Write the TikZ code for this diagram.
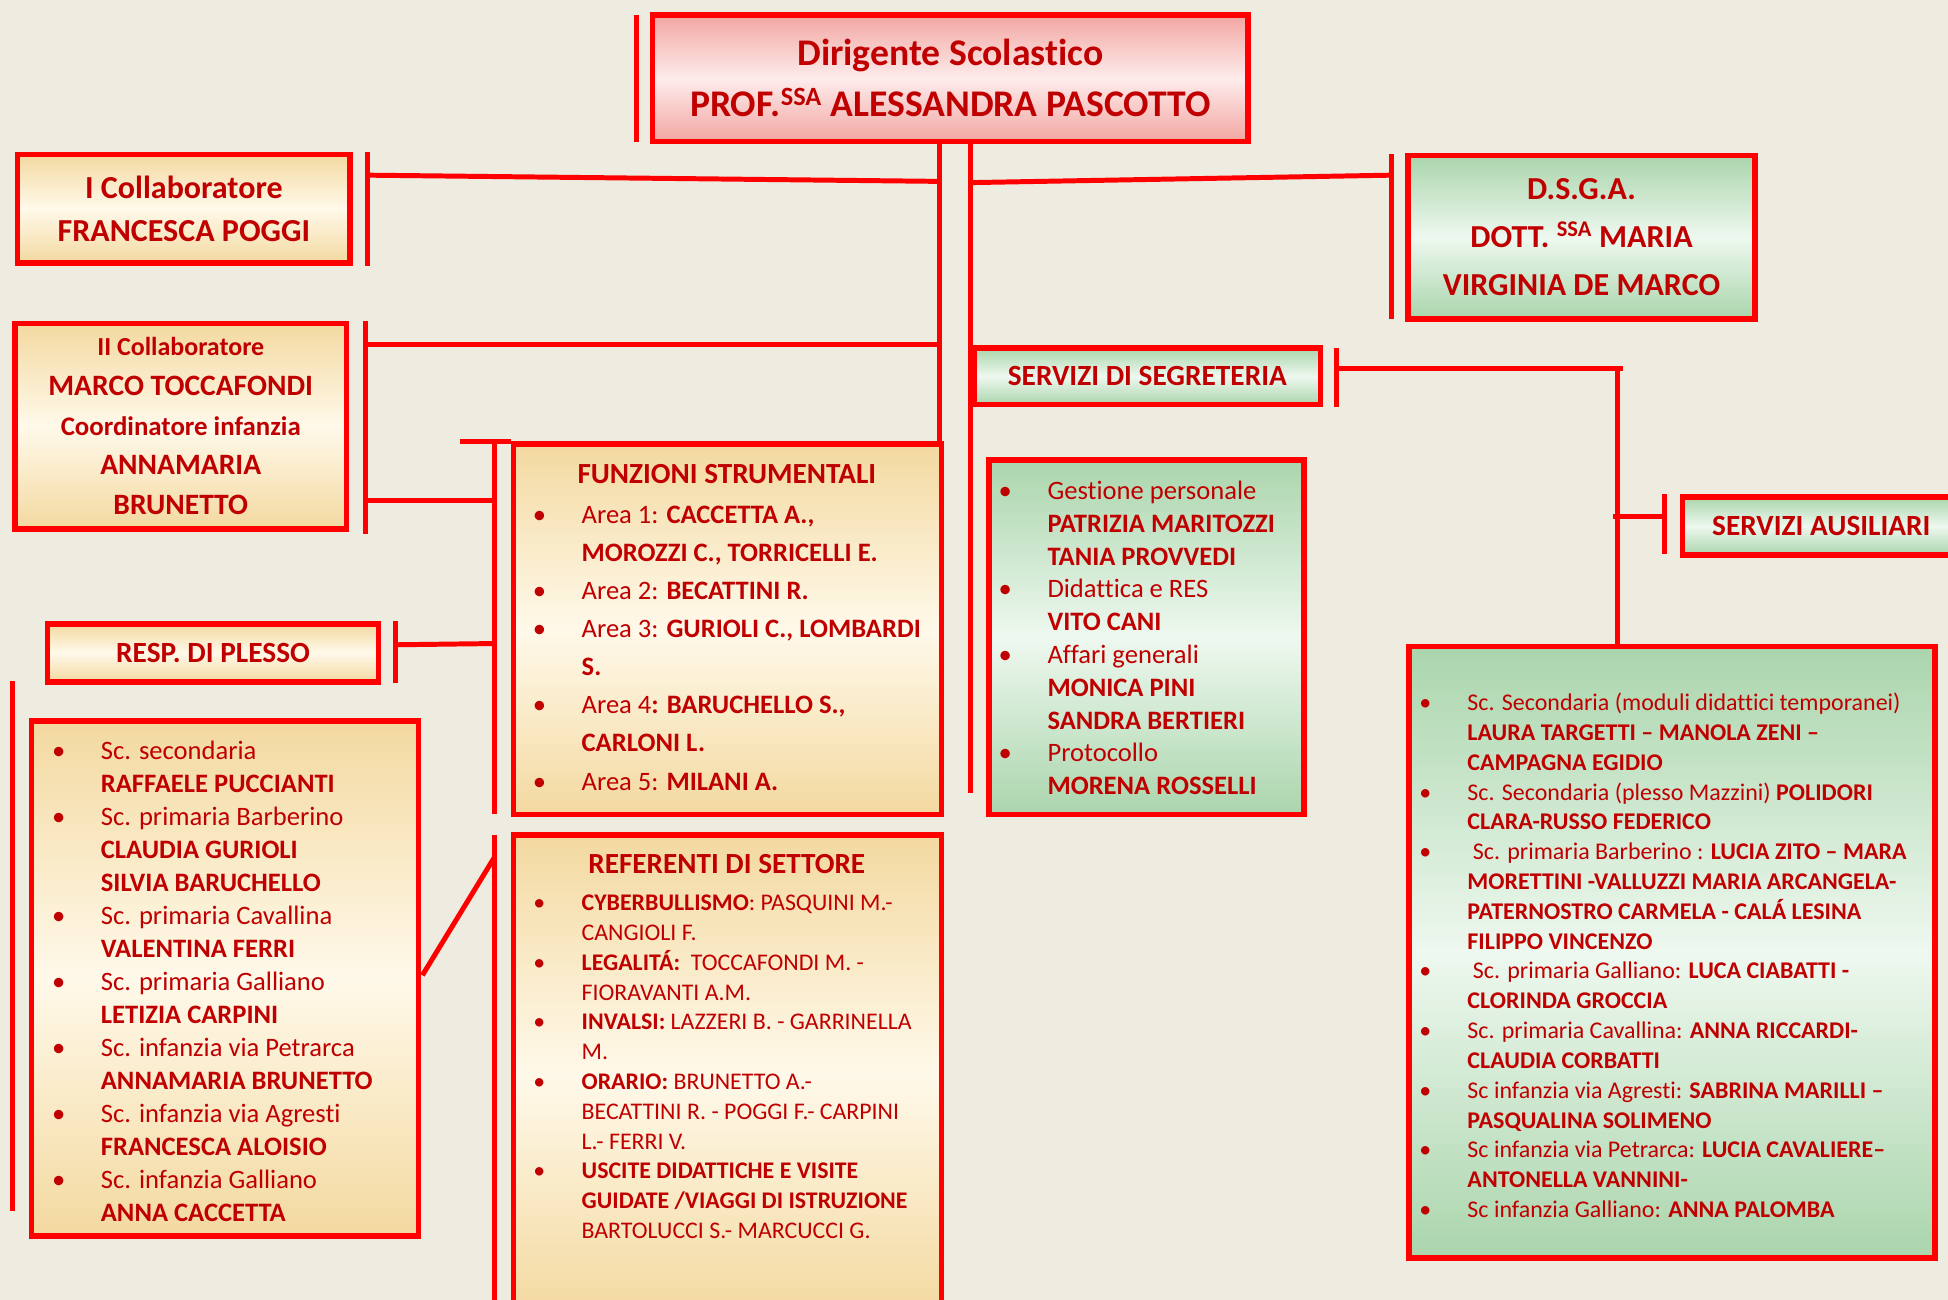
\documentclass[tikz,border=0pt]{standalone}
\usepackage{fontspec}
\setmainfont{Carlito}[Ligatures={TeX,NoCommon}]
\definecolor{bgc}{RGB}{238,235,224}
\definecolor{lred}{RGB}{255,0,0}
\definecolor{dred}{RGB}{192,0,0}
\definecolor{wheat}{RGB}{243,217,160}
\definecolor{cream}{RGB}{255,249,234}
\definecolor{pinkA}{RGB}{242,166,161}
\definecolor{pinkB}{RGB}{253,236,236}
\definecolor{grnA}{RGB}{170,213,172}
\definecolor{grnB}{RGB}{238,248,239}
\newcommand\bl{\leavevmode\llap{\makebox[0pt]{\textbullet}\hspace{34pt}}}
\newcommand\fs[2]{\fontsize{#1}{#2}\selectfont}
\tikzset{
  box/.style={draw=lred, line width=4.5pt, shading=axis, inner sep=0pt, text=dred, align=center},
  obox/.style={box, top color=wheat, bottom color=wheat, middle color=cream},
  gbox/.style={box, top color=grnA, bottom color=grnA, middle color=grnB},
  pbox/.style={box, top color=pinkA, bottom color=pinkA, middle color=pinkB},
  conn/.style={draw=lred, line width=4pt},
  lst/.style={text=dred, inner sep=0pt, anchor=base west},
  ttl/.style={text=dred, inner sep=0pt, anchor=base, font=\bfseries\fs{23.5}{28}}
}
\begin{document}
\begin{tikzpicture}[x=1pt,y=-1pt]
\useasboundingbox (0,0) rectangle (1568,1046);
\clip (0,0) rectangle (1568,1046);
\fill[bgc] (0,0) rectangle (1568,1046);

% connector coordinates
\coordinate (dbarT) at (512,12);   \coordinate (dbarB) at (512,114);
\coordinate (vA1) at (756,116);    \coordinate (vA2) at (756,355);
\coordinate (vB1) at (781,116);    \coordinate (vB2) at (781,638);
\coordinate (c1barT) at (296,122); \coordinate (c1barB) at (296,214);
\coordinate (c1L) at (296,141);    \coordinate (c1R) at (756,146);
\coordinate (dsbarT) at (1120,124);\coordinate (dsbarB) at (1120,257);
\coordinate (dsL) at (781,147);    \coordinate (dsR) at (1120,141);
\coordinate (c2barT) at (294,258); \coordinate (c2barB) at (294,430);
\coordinate (c2a) at (294,277);    \coordinate (c2aR) at (756,277);
\coordinate (c2b) at (294,403);    \coordinate (c2bR) at (398,403);
\coordinate (fTopL) at (370,355);  \coordinate (fTopR) at (411,355);
\coordinate (fv1) at (398,355);    \coordinate (fv2) at (398,655);
\coordinate (pbarT) at (318,500);  \coordinate (pbarB) at (318,550);
\coordinate (pL) at (318,519);     \coordinate (pR) at (398,518);
\coordinate (lvT) at (10,548);     \coordinate (lvB) at (10,975);
\coordinate (rv1) at (398,672);    \coordinate (rv2) at (398,1046);
\coordinate (dg1) at (340,785);    \coordinate (dg2) at (398,690);
\coordinate (sbarT) at (1076,280); \coordinate (sbarB) at (1076,328);
\coordinate (sL) at (1076,297);    \coordinate (sR) at (1306,297);
\coordinate (sv1) at (1302,295);   \coordinate (sv2) at (1302,518);
\coordinate (aL) at (1298,416);    \coordinate (aR) at (1340,416);
\coordinate (abarT) at (1340,398); \coordinate (abarB) at (1340,446);

% connectors
\draw[conn] (dbarT) -- (dbarB);
\draw[conn] (vA1) -- (vA2);
\draw[conn] (vB1) -- (vB2);
\draw[conn] (c1barT) -- (c1barB);
\draw[conn] (c1L) -- (c1R);
\draw[conn] (dsbarT) -- (dsbarB);
\draw[conn] (dsL) -- (dsR);
\draw[conn] (c2barT) -- (c2barB);
\draw[conn] (c2a) -- (c2aR);
\draw[conn] (c2b) -- (c2bR);
\draw[conn] (fTopL) -- (fTopR);
\draw[conn] (fv1) -- (fv2);
\draw[conn] (pbarT) -- (pbarB);
\draw[conn] (pL) -- (pR);
\draw[conn] (lvT) -- (lvB);
\draw[conn] (rv1) -- (rv2);
\draw[conn] (dg1) -- (dg2);
\draw[conn] (sbarT) -- (sbarB);
\draw[conn] (sL) -- (sR);
\draw[conn] (sv1) -- (sv2);
\draw[conn] (aL) -- (aR);
\draw[conn] (abarT) -- (abarB);

% title boxes
\node[pbox, minimum width=479.5pt, minimum height=101.5pt, font=\bfseries\fs{30.3}{41}] (dir) at (765,63)
  {Dirigente Scolastico\\PROF.\textsuperscript{SSA} ALESSANDRA PASCOTTO};
\node[obox, minimum width=267.5pt, minimum height=87.5pt, font=\bfseries\fs{25.8}{35}] (c1) at (148,168)
  {I Collaboratore\\FRANCESCA POGGI};
\node[gbox, minimum width=279.5pt, minimum height=131.5pt, font=\bfseries\fs{25.8}{38.5}] (dsga) at (1273,191)
  {D.S.G.A.\\DOTT. \textsuperscript{SSA} MARIA\\VIRGINIA DE MARCO};
\node[obox, minimum width=266.5pt, minimum height=165.5pt, font=\bfseries\fs{23.8}{32}] (c2) at (145.5,343)
  {{\fs{20.9}{32}II Collaboratore}\\MARCO TOCCAFONDI\\{\fs{21.6}{32}Coordinatore infanzia}\\ANNAMARIA\\BRUNETTO};
\node[gbox, minimum width=278.5pt, minimum height=45.5pt, font=\bfseries\fs{23.6}{28}] (seg) at (923.5,303)
  {SERVIZI DI SEGRETERIA};
\node[gbox, minimum width=223.5pt, minimum height=46.5pt, font=\bfseries\fs{23.6}{28}] (aus) at (1466,423.5)
  {SERVIZI AUSILIARI};
\node[obox, minimum width=266.5pt, minimum height=46.5pt, font=\bfseries\fs{23.6}{28}] (plesso) at (171.5,525.5)
  {RESP. DI PLESSO};

% list boxes
\node[obox, minimum width=311.5pt, minimum height=414.5pt] (plist) at (181,787.5) {};
\node[obox, minimum width=344.5pt, minimum height=298.5pt] (funz) at (585.5,506.5) {};
\node[obox, minimum width=344.5pt, minimum height=385.5pt] (ref) at (585.5,865) {};
\node[gbox, minimum width=253.5pt, minimum height=285.5pt] (seglist) at (923,513) {};
\node[gbox, minimum width=423.5pt, minimum height=492.5pt] (auslist) at (1346,766.5) {};

% list texts
\node[lst, font=\fs{21.4}{26.6}] (plistT) at (81,611) {\parbox[t]{300pt}{\raggedright
\bl Sc. secondaria\\
\textbf{RAFFAELE PUCCIANTI}\\
\bl Sc. primaria Barberino\\
\textbf{CLAUDIA GURIOLI}\\
\textbf{SILVIA BARUCHELLO}\\
\bl Sc. primaria Cavallina\\
\textbf{VALENTINA FERRI}\\
\bl Sc. primaria Galliano\\
\textbf{LETIZIA CARPINI}\\
\bl Sc. infanzia via Petrarca\\
\textbf{ANNAMARIA BRUNETTO}\\
\bl Sc. infanzia via Agresti\\
\textbf{FRANCESCA ALOISIO}\\
\bl Sc. infanzia Galliano\\
\textbf{ANNA CACCETTA}}};

\node[ttl] (funzT) at (585,389) {FUNZIONI STRUMENTALI};
\node[lst, font=\fs{21.4}{30.7}] (funzL) at (468,421) {\parbox[t]{300pt}{\raggedright
\bl Area 1: \textbf{CACCETTA A.,}\\
\textbf{MOROZZI C., TORRICELLI E.}\\
\bl Area 2: \textbf{BECATTINI R.}\\
\bl Area 3: \textbf{GURIOLI C., LOMBARDI}\\
\textbf{S.}\\
\bl Area 4\textbf{: BARUCHELLO S.,}\\
\textbf{CARLONI L.}\\
\bl Area 5: \textbf{MILANI A.}}};

\node[ttl] (refT) at (585,703) {REFERENTI DI SETTORE};
\node[lst, font=\fs{19.2}{24}] (refL) at (468,733) {\parbox[t]{300pt}{\raggedright
\bl \textbf{CYBERBULLISMO}: PASQUINI M.-\\
CANGIOLI F.\\
\bl \textbf{LEGALITÁ:}\ \ TOCCAFONDI M. -\\
FIORAVANTI A.M.\\
\bl \textbf{INVALSI:} LAZZERI B. - GARRINELLA\\
M.\\
\bl \textbf{ORARIO:} BRUNETTO A.-\\
BECATTINI R. - POGGI F.- CARPINI\\
L.- FERRI V.\\
\bl \textbf{USCITE DIDATTICHE E VISITE}\\
\textbf{GUIDATE /VIAGGI DI ISTRUZIONE}\\
BARTOLUCCI S.- MARCUCCI G.}};

\node[lst, font=\fs{21.4}{26.4}] (seglistT) at (843,402) {\parbox[t]{250pt}{\raggedright
\bl Gestione personale\\
\textbf{PATRIZIA MARITOZZI}\\
\textbf{TANIA PROVVEDI}\\
\bl Didattica e RES\\
\textbf{VITO CANI}\\
\bl Affari generali\\
\textbf{MONICA PINI}\\
\textbf{SANDRA BERTIERI}\\
\bl Protocollo\\
\textbf{MORENA ROSSELLI}}};

\node[lst, font=\fs{19.3}{24}] (auslistT) at (1181,572) {\parbox[t]{400pt}{\raggedright
\bl Sc. Secondaria (moduli didattici temporanei)\\
\textbf{LAURA TARGETTI – MANOLA ZENI –}\\
\textbf{CAMPAGNA EGIDIO}\\
\bl Sc. Secondaria (plesso Mazzini) \textbf{POLIDORI}\\
\textbf{CLARA-RUSSO FEDERICO}\\
\bl\ Sc. primaria Barberino : \textbf{LUCIA ZITO – MARA}\\
\textbf{MORETTINI -VALLUZZI MARIA ARCANGELA-}\\
\textbf{PATERNOSTRO CARMELA - CALÁ LESINA}\\
\textbf{FILIPPO VINCENZO}\\
\bl\ Sc. primaria Galliano: \textbf{LUCA CIABATTI -}\\
\textbf{CLORINDA GROCCIA}\\
\bl Sc. primaria Cavallina: \textbf{ANNA RICCARDI-}\\
\textbf{CLAUDIA CORBATTI}\\
\bl Sc infanzia via Agresti: \textbf{SABRINA MARILLI –}\\
\textbf{PASQUALINA SOLIMENO}\\
\bl Sc infanzia via Petrarca: \textbf{LUCIA CAVALIERE–}\\
\textbf{ANTONELLA VANNINI-}\\
\bl Sc infanzia Galliano: \textbf{ANNA PALOMBA}}};
\end{tikzpicture}
\end{document}
